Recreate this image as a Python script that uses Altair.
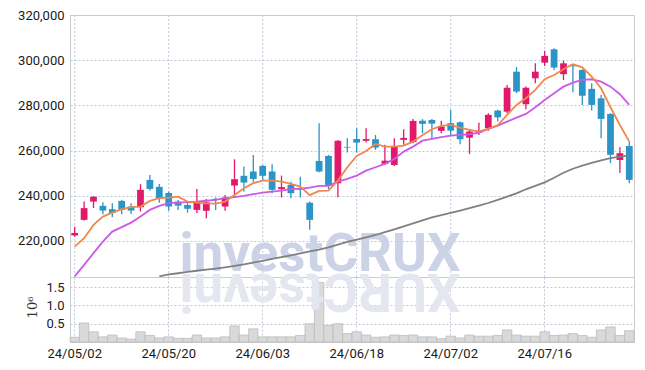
import altair as alt
import pandas as pd

dates = ["24/05/02", "24/05/03", "24/05/07", "24/05/08", "24/05/09", "24/05/10", "24/05/13", "24/05/14",
         "24/05/16", "24/05/17", "24/05/20", "24/05/21", "24/05/22", "24/05/23", "24/05/24", "24/05/27",
         "24/05/28", "24/05/29", "24/05/30", "24/05/31", "24/06/03", "24/06/04", "24/06/05", "24/06/07",
         "24/06/10", "24/06/11", "24/06/12", "24/06/13", "24/06/14", "24/06/17", "24/06/18", "24/06/19",
         "24/06/20", "24/06/21", "24/06/24", "24/06/25", "24/06/26", "24/06/27", "24/06/28", "24/07/01",
         "24/07/02", "24/07/03", "24/07/04", "24/07/05", "24/07/08", "24/07/09", "24/07/10", "24/07/11",
         "24/07/12", "24/07/15", "24/07/16", "24/07/17", "24/07/18", "24/07/19", "24/07/22", "24/07/23",
         "24/07/24", "24/07/25", "24/07/26", "24/07/29"]

opens = [222400, 229300, 237400, 235500, 234000, 237700, 235200, 234900, 247000, 243900,
         241200, 237400, 235900, 233700, 233300, 238600, 235200, 244500, 248800, 250700,
         253200, 250700, 242900, 244800, 243000, 236900, 255400, 257600, 245500, 261600,
         265100, 264300, 265000, 254100, 253600, 264700, 263700, 273200, 273500, 268700,
         272100, 272500, 265700, 267900, 269900, 277700, 277200, 294900, 280500, 292000,
         298900, 304800, 293800, 297900, 295700, 287300, 283100, 276200, 255800, 262000]
highs = [226200, 237400, 239800, 237100, 236700, 238100, 236700, 245100, 249200, 245200,
         241800, 238100, 237400, 243000, 238500, 239200, 240300, 256100, 252900, 258000,
         253600, 253900, 248900, 246200, 248400, 237400, 272100, 258000, 264700, 265400,
         269900, 269900, 266900, 262500, 265400, 269400, 273900, 273900, 273900, 273200,
         278000, 272800, 269100, 272300, 276500, 278000, 289000, 296900, 288300, 298600,
         304200, 305300, 299800, 298100, 296000, 289800, 284600, 276500, 261500, 263900]
lows = [221800, 229000, 234500, 231800, 230500, 231800, 231900, 233000, 242300, 236900,
        233300, 233700, 232500, 232300, 230000, 233700, 233300, 239600, 241800, 246200,
        247000, 241100, 239200, 238900, 239200, 224900, 250400, 242900, 239300, 259100,
        259100, 263500, 260300, 253600, 253200, 262500, 263200, 267700, 265400, 267700,
        266900, 262800, 258500, 266900, 268700, 272800, 276500, 285400, 278300, 289800,
        297400, 295700, 291200, 285800, 280200, 277700, 265400, 254400, 250000, 245500]
closes = [223500, 234500, 239500, 233400, 232300, 233700, 233400, 242600, 243000, 238900,
          235200, 235600, 234200, 237100, 237100, 238100, 239200, 247300, 245800, 247400,
          248800, 242600, 243800, 241100, 242600, 229300, 250700, 244300, 264300, 261300,
          263500, 265100, 261300, 255500, 262000, 265600, 273100, 271800, 271900, 270600,
          268800, 265000, 268400, 268800, 275800, 274700, 287800, 286100, 287800, 294900,
          301900, 296700, 298600, 297300, 284300, 280200, 274000, 258100, 258800, 247000]

volumes_m = [0.13, 0.52, 0.28, 0.14, 0.19, 0.11, 0.08, 0.28, 0.18, 0.11,
             0.14, 0.10, 0.10, 0.19, 0.11, 0.11, 0.14, 0.44, 0.19, 0.36,
             0.14, 0.14, 0.14, 0.14, 0.18, 0.50, 1.63, 0.45, 0.50, 0.23,
             0.28, 0.19, 0.13, 0.14, 0.19, 0.18, 0.19, 0.14, 0.14, 0.09,
             0.16, 0.11, 0.19, 0.16, 0.16, 0.18, 0.33, 0.19, 0.16, 0.16,
             0.28, 0.18, 0.19, 0.23, 0.18, 0.13, 0.33, 0.41, 0.18, 0.31]

ma5 = [217480, 221190, 227070, 230750, 232520, 234020, 234900, 235170, 237700, 238890,
       239160, 239600, 237380, 236900, 236600, 236500, 237380, 240350, 243310, 245530,
       246680, 246680, 246240, 245220, 244030, 240220, 242120, 242270, 246800, 252600,
       257610, 259820, 262920, 261720, 261720, 262170, 263930, 266900, 269420, 270880,
       271320, 270130, 269110, 268360, 269690, 271190, 275750, 280180, 283140, 286810,
       291550, 293450, 295970, 298180, 296850, 292700, 287560, 279150, 271320, 263930]
ma20 = [204300, 209380, 214560, 219690, 224110, 226060, 228090, 230750, 233710, 235480,
        236670, 236940, 237120, 237380, 237760, 238140, 238890, 239330, 239910, 240660,
        241370, 241810, 242270, 242870, 243140, 243590, 244330, 244330, 246200, 247430,
        248890, 251100, 252600, 254070, 256280, 259510, 261720, 264380, 265130, 265880,
        266590, 266900, 267210, 267920, 269550, 271010, 272780, 274550, 276190, 279150,
        282390, 285350, 288270, 290040, 291240, 291550, 290490, 288270, 284910, 280180]
ma60 = [None, None, None, None, None, None, None, None, None, 204300,
        205130, 205660, 206230, 206760, 207300, 207740, 208270, 208890, 209550, 210390,
        211190, 212030, 212830, 213620, 214460, 215300, 216150, 217160, 218360, 219510,
        220570, 221540, 222600, 223840, 225080, 226370, 227700, 229070, 230350, 231370,
        232340, 233360, 234460, 235570, 236760, 238140, 239600, 241010, 242830, 244380,
        245880, 247960, 250170, 251940, 253270, 254510, 255620, 256590, 257250, 257700]

price_ticks = [220000, 240000, 260000, 280000, 300000, 320000]
vol_ticks = [0.5, 1.0, 1.5]
date_ticks = dates[::10]

df = pd.DataFrame({"date": dates, "open": opens, "high": highs, "low": lows, "close": closes,
                   "vol": volumes_m, "ma5": ma5, "ma20": ma20, "ma60": ma60})

RED = "#e2186b"
BLUE = "#2c95c7"
GRID = "#c4c8d8"
W = 564

xscale = alt.Scale(domain=dates, paddingInner=0, paddingOuter=0)
x_top = alt.X("date:O", sort=None, scale=xscale, axis=None)
x_bot = alt.X("date:O", sort=None, scale=xscale,
              axis=alt.Axis(values=date_ticks, labelAngle=0, ticks=False, domain=False, grid=True,
                            title=None, bandPosition=0.5, labelPadding=5))

yscale = alt.Scale(domain=[204000, 320000], nice=False, zero=False)
yaxis = alt.Axis(values=price_ticks, format=",d", title=None, ticks=False, domain=False,
                 labelPadding=6, minExtent=52, maxExtent=52)

color = alt.condition("datum.close >= datum.open", alt.value(RED), alt.value(BLUE))
base = alt.Chart(df)

vgrid = base.transform_filter(alt.FieldOneOfPredicate(field="date", oneOf=date_ticks)).mark_rule(
    color=GRID, strokeDash=[2, 2], strokeWidth=1).encode(x=x_top)

wm = alt.Chart(pd.DataFrame({"t": ["investCRUX"]})).mark_text(
    font="Roboto", fontWeight="bold", fontSize=53, color="#cdd3e6", align="center",
    baseline="alphabetic").encode(x=alt.value(250), y=alt.value(256), text="t:N")

wick = base.mark_rule(strokeWidth=1.3, clip=True).encode(
    x=x_top, y=alt.Y("low:Q", scale=yscale, axis=yaxis), y2="high:Q", color=color)
body = base.mark_bar(width=alt.RelativeBandSize(0.72), clip=True).encode(
    x=x_top, y=alt.Y("open:Q", scale=yscale), y2="close:Q", color=color)
l60 = base.mark_line(color="#808080", strokeWidth=1.8, clip=True).encode(
    x=x_top, y=alt.Y("ma60:Q", scale=yscale))
l20 = base.mark_line(color="#cc5ae8", strokeWidth=1.8, clip=True).encode(
    x=x_top, y=alt.Y("ma20:Q", scale=yscale))
l5 = base.mark_line(color="#f0874c", strokeWidth=1.8, clip=True).encode(
    x=x_top, y=alt.Y("ma5:Q", scale=yscale))

price = alt.layer(vgrid, wm, wick, body, l60, l20, l5).properties(width=W, height=262)

wm2 = alt.Chart(pd.DataFrame({"t": ["XURCtsevni"]})).mark_text(
    font="Roboto", fontWeight="bold", fontSize=53, color="#e4e7f0", align="center",
    baseline="alphabetic", angle=180).encode(x=alt.value(250), y=alt.value(-3), text="t:N")

vbars = base.mark_bar(width=alt.RelativeBandSize(1.0), color="#d9d9d9", stroke="#bdbdbd",
                      strokeWidth=0.8).encode(
    x=x_bot,
    y=alt.Y("vol:Q", scale=alt.Scale(domain=[0, 1.78], nice=False),
            axis=alt.Axis(values=vol_ticks, format=".1f", title="10⁶", ticks=False, domain=False,
                          labelPadding=6, minExtent=52, maxExtent=52, titleFont="DejaVu Serif",
                          titleFontWeight="normal", titleFontSize=13, titleColor="#333",
                          titleX=-38, titleY=30, titleAngle=270, titleAlign="center",
                          titleBaseline="middle")))

volume = alt.layer(vbars, wm2).properties(width=W, height=65)

chart = alt.vconcat(price, volume, spacing=0, bounds="flush").properties(
    padding={"left": 9, "top": 0, "right": 0, "bottom": 5}
).configure_view(stroke="#cccccc").configure_axis(
    labelFont="Roboto", labelFontSize=13, labelColor="#1a1a1a",
    gridColor=GRID, gridDash=[2, 2], gridWidth=1
)

chart.save("out.html", embed_options={"renderer": "svg", "actions": False})
